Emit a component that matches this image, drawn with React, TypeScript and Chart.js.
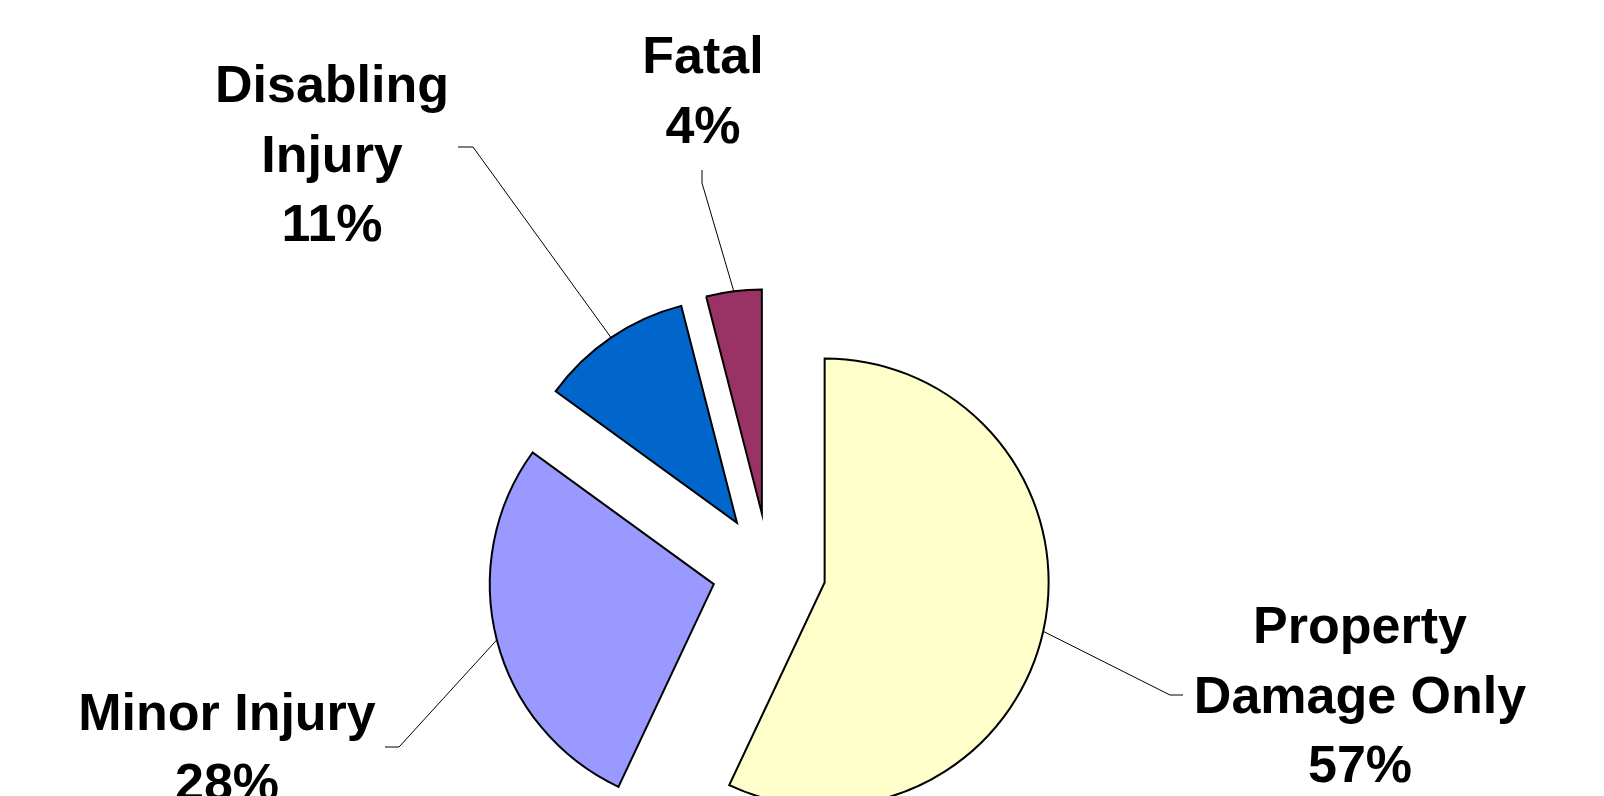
import React, { useEffect, useRef } from "react";
import { Chart, registerables } from "chart.js";

Chart.register(...registerables);

// ---- data ----
const categories = ["Property Damage Only", "Minor Injury", "Disabling Injury", "Fatal"];
const labelLines = [["Property", "Damage Only"], ["Minor Injury"], ["Disabling", "Injury"], ["Fatal"]];
const shares = [57, 28, 11, 4];
const sliceColors = ["#FFFFCC", "#9999FF", "#0066CC", "#993366"];

// ---- layout / style ----
const EXPLODE = 57;
const RADIUS = 224;
const FONT = "bold 52px 'Liberation Sans', Arial, sans-serif";
const LINE_H = 69.5;
const labelLayout = [
  { x: 1360, y: 643, elbow: [1170, 695], end: [1183, 695] },
  { x: 227, y: 730, elbow: [399, 747], end: [385, 747] },
  { x: 332, y: 102, elbow: [473, 147], end: [458, 147] },
  { x: 703, y: 73, elbow: [702, 183], end: [702, 170] },
];

const explodedPie = {
  id: "explodedPie",
  beforeDatasetDraw(chart: any, args: any) {
    const meta = chart.getDatasetMeta(args.index);
    const ctx = chart.ctx;
    meta.data.forEach((el: any) => {
      const mid = (el.startAngle + el.endAngle) / 2;
      ctx.save();
      ctx.translate(Math.cos(mid) * EXPLODE, Math.sin(mid) * EXPLODE);
      el.draw(ctx);
      ctx.restore();
    });
    return false;
  },
  afterDatasetsDraw(chart: any) {
    const meta = chart.getDatasetMeta(0);
    const ctx = chart.ctx;
    const values = chart.data.datasets[0].data as number[];
    const total = values.reduce((a, b) => a + b, 0);
    meta.data.forEach((el: any, i: number) => {
      const mid = (el.startAngle + el.endAngle) / 2;
      const r = el.outerRadius + EXPLODE;
      const px = el.x + Math.cos(mid) * r;
      const py = el.y + Math.sin(mid) * r;
      const L = labelLayout[i];
      ctx.save();
      ctx.strokeStyle = "#000";
      ctx.lineWidth = 1;
      ctx.beginPath();
      ctx.moveTo(px, py);
      ctx.lineTo(L.elbow[0], L.elbow[1]);
      ctx.lineTo(L.end[0], L.end[1]);
      ctx.stroke();
      ctx.fillStyle = "#000";
      ctx.font = FONT;
      ctx.textAlign = "center";
      ctx.textBaseline = "alphabetic";
      const lines = [...labelLines[i], Math.round((values[i] / total) * 100) + "%"];
      lines.forEach((t, k) => ctx.fillText(t, L.x, L.y + k * LINE_H));
      ctx.restore();
    });
  },
};

export default function App() {
  const ref = useRef<HTMLCanvasElement | null>(null);
  useEffect(() => {
    if (!ref.current) return;
    const chart = new Chart(ref.current, {
      type: "pie",
      data: {
        labels: categories,
        datasets: [
          {
            data: shares,
            backgroundColor: sliceColors,
            borderColor: "#000",
            borderWidth: 2,
            borderJoinStyle: "miter",
            radius: RADIUS,
            offset: 0,
          } as any,
        ],
      },
      options: {
        animation: false,
        responsive: true,
        maintainAspectRatio: false,
        devicePixelRatio: 1,
        layout: { padding: { left: 0, right: 66, top: 344, bottom: 0 } },
        plugins: { legend: { display: false }, tooltip: { enabled: false } },
        events: [],
      } as any,
      plugins: [explodedPie],
    });
    return () => chart.destroy();
  }, []);
  return (
    <div style={{ position: "fixed", left: 0, top: 0, width: 1604, height: 796, background: "#fff" }}>
      <canvas ref={ref} />
    </div>
  );
}
